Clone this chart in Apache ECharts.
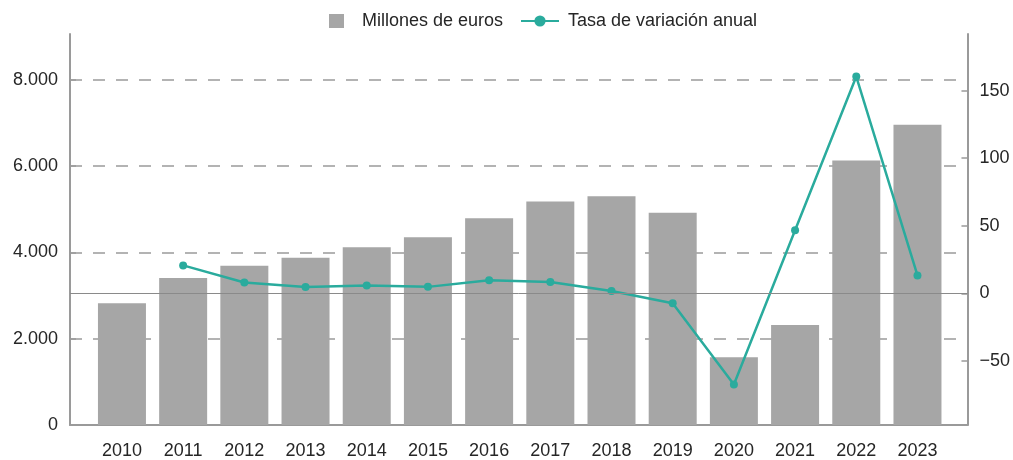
<!DOCTYPE html>
<html>
<head>
<meta charset="utf-8">
<script src="https://cdn.jsdelivr.net/npm/echarts@6/dist/echarts.min.js"></script>
<style>
  html, body { margin: 0; padding: 0; background: #ffffff; }
  #chart { width: 1013px; height: 460px; }
</style>
</head>
<body>
<div id="chart"></div>
<script>
// Years on the horizontal axis
const years = [2010, 2011, 2012, 2013, 2014, 2015, 2016, 2017, 2018, 2019, 2020, 2021, 2022, 2023];
// Yearly amount, millions of euros (bars, left axis)
const millonesEuros = [2820, 3410, 3690, 3880, 4120, 4350, 4790, 5180, 5300, 4920, 1570, 2320, 6130, 6960];
// Year-on-year change, % (line, right axis)
const tasaVariacion = [null, 20.7, 8.0, 4.7, 5.8, 4.8, 9.7, 8.4, 1.8, -7.3, -67.4, 46.7, 160.4, 13.3];
// Tick labels
const leftTicks = [0, 2000, 4000, 6000, 8000];
const rightTicks = [-50, 0, 50, 100, 150];

const serieBarras = 'Millones de euros';
const serieLinea = 'Tasa de variación anual';

const FONT = '"Liberation Sans", Arial, Helvetica, sans-serif';
const TEXT = '#262626';
const AXIS = '#9a9a9a';
const TEAL = '#2aab9d';

// Spanish thousands separator: 8000 -> "8.000"
function miles(v) {
  return String(v).replace(/\B(?=(\d{3})+(?!\d))/g, '.');
}

const chart = echarts.init(document.getElementById('chart'), null, { renderer: 'canvas' });

chart.setOption({
  animation: false,
  backgroundColor: '#ffffff',
  textStyle: { fontFamily: FONT },
  grid: { left: 70, right: 45, top: 34, bottom: 34, containLabel: false },
  legend: [
    {
      left: 329, top: 12, padding: 0,
      itemWidth: 15, itemHeight: 14,
      data: [{ name: serieBarras, icon: 'rect' }],
      textStyle: { fontSize: 18, color: TEXT, fontFamily: FONT, padding: [0, 0, 0, 13] }
    },
    {
      left: 520, top: 12, padding: 0,
      itemWidth: 38, itemHeight: 14,
      data: [{ name: serieLinea }],
      textStyle: { fontSize: 18, color: TEXT, fontFamily: FONT, padding: [0, 0, 0, 4] }
    }
  ],
  xAxis: {
    type: 'value',
    min: 2009.151,
    max: 2023.817,
    axisLine: { show: true, lineStyle: { color: AXIS, width: 2 } },
    // ticks pointing out of the plot area
    axisTick: { show: true, inside: true, length: 6, customValues: years, lineStyle: { color: AXIS, width: 1.5 } },
    axisLabel: {
      customValues: years,
      formatter: (v) => String(v),
      fontSize: 18, color: TEXT, fontFamily: FONT, margin: 17
    },
    splitLine: { show: false }
  },
  yAxis: [
    {
      type: 'value',
      position: 'left',
      min: 0,
      max: 9064,
      axisLine: { show: true, lineStyle: { color: AXIS, width: 2 } },
      axisTick: { show: true, inside: true, length: 6, customValues: leftTicks, lineStyle: { color: AXIS, width: 1.5 } },
      axisLabel: {
        customValues: leftTicks,
        formatter: (v) => miles(v),
        fontSize: 18, color: TEXT, fontFamily: FONT, margin: 12
      },
      splitLine: {
        show: true, showMinLine: false,
        lineStyle: { color: '#9a9a9a', width: 1.5, type: [12, 11] }
      }
    },
    {
      type: 'value',
      position: 'right',
      min: -97.4,
      max: 191.9,
      axisLine: { show: true, lineStyle: { color: AXIS, width: 2 } },
      axisTick: { show: true, inside: true, length: 6, customValues: rightTicks, lineStyle: { color: AXIS, width: 1.5 } },
      axisLabel: {
        customValues: rightTicks,
        formatter: (v) => (v < 0 ? '\u2212' + Math.abs(v) : String(v)),
        fontSize: 18, color: TEXT, fontFamily: FONT, margin: 12
      },
      splitLine: { show: false }
    }
  ],
  series: [
    {
      name: serieBarras,
      type: 'bar',
      yAxisIndex: 0,
      barWidth: 48,
      itemStyle: { color: '#a6a6a6' },
      data: years.map((y, i) => [y, millonesEuros[i]])
    },
    {
      name: serieLinea,
      type: 'line',
      yAxisIndex: 1,
      symbol: 'circle',
      symbolSize: 8,
      z: 4,
      lineStyle: { color: TEAL, width: 2.5 },
      itemStyle: { color: TEAL },
      data: years.map((y, i) => [y, tasaVariacion[i] === null ? '-' : tasaVariacion[i]]),
      // zero reference of the right axis, drawn over the bars
      markLine: {
        silent: true,
        symbol: ['none', 'none'],
        label: { show: false },
        lineStyle: { color: '#8a8a8a', width: 1, type: 'solid' },
        data: [{ yAxis: 0 }]
      }
    }
  ]
});
</script>
</body>
</html>
